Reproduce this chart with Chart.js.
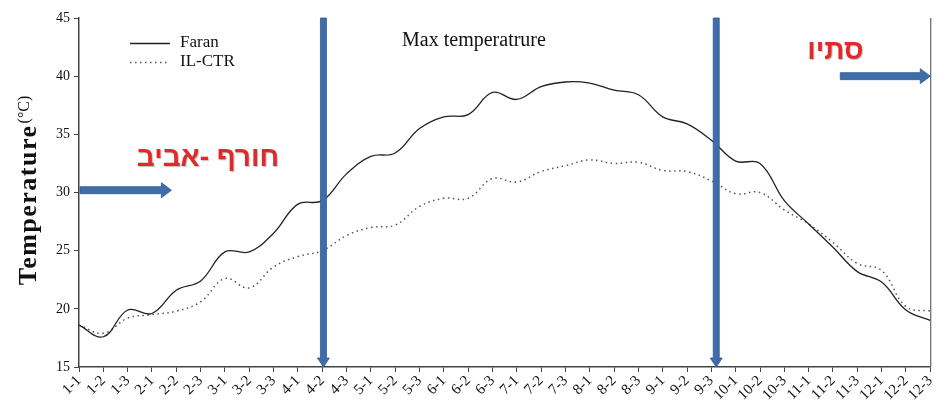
<!DOCTYPE html>
<html>
<head>
<meta charset="utf-8">
<script src="https://cdn.jsdelivr.net/npm/chart.js@4"></script>
<style>
  html, body { margin: 0; padding: 0; background: #fff; }
  #wrap { width: 943px; height: 401px; }
</style>
</head>
<body>
<div id="wrap"><canvas id="maxTempChart" width="943" height="401"></canvas></div>
<script>
// Decades of the year (month-decade)
const decades = [
    '1-1','1-2','1-3','2-1','2-2','2-3','3-1','3-2','3-3','4-1','4-2','4-3',
    '5-1','5-2','5-3','6-1','6-2','6-3','7-1','7-2','7-3','8-1','8-2','8-3',
    '9-1','9-2','9-3','10-1','10-2','10-3','11-1','11-2','11-3','12-1','12-2','12-3'
];

const faranValues = [
    18.6, 17.6, 19.9, 19.6, 21.6, 22.4, 24.9, 24.9, 26.5, 29.0, 29.3, 31.6,
    33.1, 33.4, 35.5, 36.5, 36.7, 38.6, 38.0, 39.1, 39.5, 39.4, 38.8, 38.4,
    36.5, 35.9, 34.5, 32.7, 32.5, 29.3, 27.3, 25.3, 23.2, 22.3, 19.9, 19.0
];

const ilCtrValues = [
    18.6, 17.9, 19.2, 19.5, 19.8, 20.6, 22.6, 21.8, 23.6, 24.5, 25.0, 26.3,
    27.0, 27.2, 28.8, 29.5, 29.5, 31.2, 30.9, 31.8, 32.3, 32.8, 32.5, 32.6,
    31.9, 31.8, 31.0, 29.9, 30.0, 28.5, 27.3, 25.7, 23.9, 23.3, 20.2, 19.8
];

const yTicks = [15, 20, 25, 30, 35, 40, 45];

// Season borders (in decade index units)
const seasonBorders = [10.05, 26.2];

const seasonLabels = ['חורף -אביב', 'סתיו'];

const ARROW_BLUE = '#3F6DAA';
const RED_TEXT = '#E02A2A';
const SERIF = '"Liberation Serif", "Times New Roman", serif';

function drawArrowH(ctx, x1, x2, y, thick, headW, headL) {
    ctx.beginPath();
    ctx.moveTo(x1, y - thick / 2);
    ctx.lineTo(x2 - headL, y - thick / 2);
    ctx.lineTo(x2 - headL, y - headW / 2);
    ctx.lineTo(x2, y);
    ctx.lineTo(x2 - headL, y + headW / 2);
    ctx.lineTo(x2 - headL, y + thick / 2);
    ctx.lineTo(x1, y + thick / 2);
    ctx.closePath();
    ctx.fill();
    ctx.stroke();
}

function drawArrowV(ctx, x, y1, y2, thick, headW, headL) {
    ctx.beginPath();
    ctx.moveTo(x - thick / 2, y1);
    ctx.lineTo(x - thick / 2, y2 - headL);
    ctx.lineTo(x - headW / 2, y2 - headL);
    ctx.lineTo(x, y2);
    ctx.lineTo(x + headW / 2, y2 - headL);
    ctx.lineTo(x + thick / 2, y2 - headL);
    ctx.lineTo(x + thick / 2, y1);
    ctx.closePath();
    ctx.fill();
    ctx.stroke();
}

const decorPlugin = {
    id: 'decor',
    afterDatasetsDraw(chart) {
        const ctx = chart.ctx;
        const xs = chart.scales.x;
        const ys = chart.scales.y;
        const area = chart.chartArea;

        ctx.save();

        // right border
        ctx.strokeStyle = '#444';
        ctx.lineWidth = 1;
        ctx.beginPath();
        ctx.moveTo(area.right + 0.5, area.top);
        ctx.lineTo(area.right + 0.5, area.bottom);
        ctx.stroke();

        // season arrows
        ctx.fillStyle = ARROW_BLUE;
        ctx.strokeStyle = '#2F5A90';
        ctx.lineWidth = 0.8;
        seasonBorders.forEach(v => {
            drawArrowV(ctx, xs.getPixelForValue(v), area.top, area.bottom, 6, 12, 9);
        });
        drawArrowH(ctx, area.left + 1, xs.getPixelForValue(3.8), ys.getPixelForValue(30.2), 7, 15, 10);
        drawArrowH(ctx, xs.getPixelForValue(31.3), area.right, ys.getPixelForValue(40.0), 7, 15, 10);

        // Hebrew season labels
        ctx.font = 'bold 28px "Liberation Sans", "DejaVu Sans", sans-serif';
        ctx.fillStyle = RED_TEXT;
        ctx.textAlign = 'center';
        ctx.textBaseline = 'middle';
        ctx.shadowColor = 'rgba(0,0,0,0.25)';
        ctx.shadowOffsetX = 1;
        ctx.shadowOffsetY = 1;
        ctx.shadowBlur = 1;
        ctx.fillText(seasonLabels[0], xs.getPixelForValue(5.3), ys.getPixelForValue(32.9));
        ctx.fillText(seasonLabels[1], xs.getPixelForValue(31.1), ys.getPixelForValue(42.1));
        ctx.shadowColor = 'transparent';

        // title
        ctx.fillStyle = '#111';
        ctx.font = '20px ' + SERIF;
        ctx.fillText('Max temperatrure', 474, 41);

        // legend
        const items = [
            { label: 'Faran', ds: chart.data.datasets[0], y: 43 },
            { label: 'IL-CTR', ds: chart.data.datasets[1], y: 62 }
        ];
        items.forEach(item => {
            ctx.strokeStyle = item.ds.borderColor;
            ctx.lineWidth = item.ds.borderWidth;
            ctx.setLineDash(item.ds.borderDash || []);
            ctx.beginPath();
            ctx.moveTo(130, item.y + 0.5);
            ctx.lineTo(170, item.y + 0.5);
            ctx.stroke();
            ctx.setLineDash([]);
            ctx.fillStyle = '#111';
            ctx.font = '17px ' + SERIF;
            ctx.textAlign = 'left';
            ctx.fillText(item.label, 180, item.y);
        });

        // y-axis title
        ctx.translate(29, 191);
        ctx.rotate(-Math.PI / 2);
        ctx.fillStyle = '#111';
        ctx.textAlign = 'left';
        ctx.textBaseline = 'middle';
        const main = 'Temperature';
        const unit = '(°C)';
        ctx.font = 'bold 26px ' + SERIF;
        ctx.letterSpacing = '1.5px';
        const wMain = ctx.measureText(main).width;
        ctx.letterSpacing = '0px';
        ctx.font = '16px ' + SERIF;
        const wUnit = ctx.measureText(unit).width;
        const start = -(wMain + wUnit) / 2;
        ctx.font = 'bold 26px ' + SERIF;
        ctx.letterSpacing = '1.5px';
        ctx.fillText(main, start, 0);
        ctx.letterSpacing = '0px';
        ctx.font = '16px ' + SERIF;
        ctx.fillText(unit, start + wMain + 1, -4);

        ctx.restore();
    }
};

const ctx = document.getElementById('maxTempChart');

new Chart(ctx, {
    type: 'line',
    data: {
        labels: decades,
        datasets: [
            {
                label: 'Faran',
                data: faranValues,
                borderColor: '#222',
                borderWidth: 1.3,
                pointRadius: 0,
                tension: 0.4,
                fill: false
            },
            {
                label: 'IL-CTR',
                data: ilCtrValues,
                borderColor: '#555',
                borderWidth: 1.5,
                borderDash: [1.5, 3.5],
                pointRadius: 0,
                tension: 0.4,
                fill: false
            }
        ]
    },
    options: {
        responsive: false,
        animation: false,
        layout: {
            padding: { left: 0, right: 8, top: 18, bottom: 0 }
        },
        plugins: {
            legend: { display: false },
            tooltip: { enabled: false }
        },
        scales: {
            x: {
                offset: false,
                afterFit: scale => { scale.height = 34; },
                grid: {
                    display: true,
                    drawOnChartArea: false,
                    drawTicks: true,
                    tickLength: 5,
                    color: '#444'
                },
                border: { color: '#444', width: 1.5 },
                ticks: {
                    autoSkip: false,
                    maxRotation: 45,
                    minRotation: 45,
                    padding: 0,
                    color: '#111',
                    font: { family: SERIF, size: 15 }
                }
            },
            y: {
                min: 15,
                max: 45,
                afterFit: scale => { scale.width = 79; },
                afterBuildTicks: scale => {
                    scale.ticks = yTicks.map(v => ({ value: v }));
                },
                grid: {
                    display: true,
                    drawOnChartArea: false,
                    drawTicks: true,
                    tickLength: 5,
                    color: '#444'
                },
                border: { color: '#444', width: 1.5 },
                ticks: {
                    color: '#111',
                    padding: 4,
                    font: { family: SERIF, size: 14 }
                }
            }
        }
    },
    plugins: [decorPlugin]
});
</script>
</body>
</html>
